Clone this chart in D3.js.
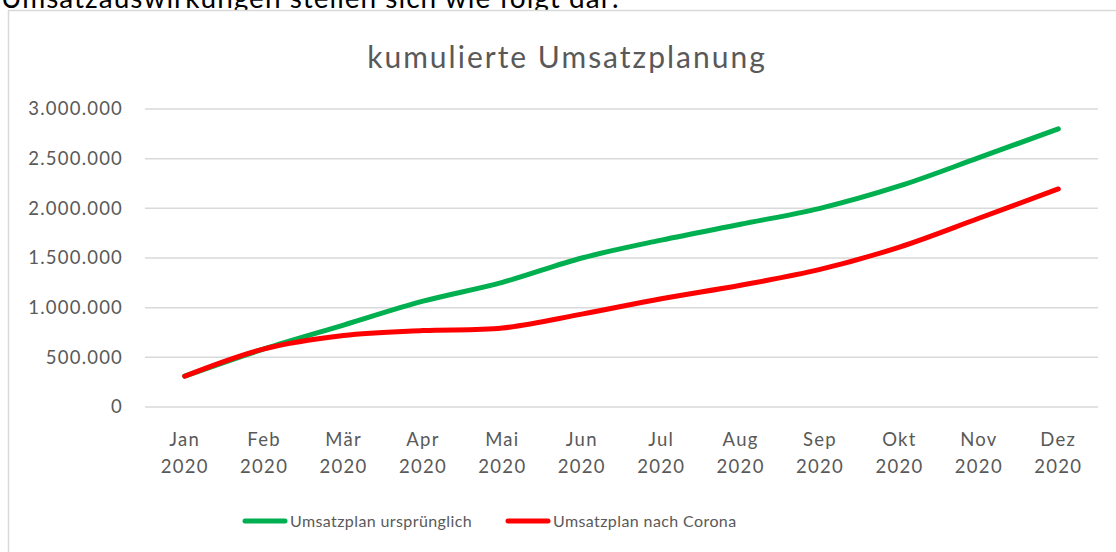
<!DOCTYPE html>
<html>
<head>
<meta charset="utf-8">
<script src="https://cdn.jsdelivr.net/npm/d3@7"></script>
<style>
  body { margin: 0; background: #fff; }
  text { font-family: Lato, "Open Sans", sans-serif; }
</style>
</head>
<body>
<div id="chart"></div>
<script>
var width = 1116;
var height = 552;

// data
var months = ["Jan", "Feb", "Mär", "Apr", "Mai", "Jun", "Jul", "Aug", "Sep", "Okt", "Nov", "Dez"];
var year = "2020";
var planOriginal = [310000, 585000, 825000, 1065000, 1255000, 1500000, 1680000, 1840000, 2000000, 2225000, 2510000, 2800000];
var planCorona = [310000, 585000, 720000, 770000, 795000, 935000, 1090000, 1225000, 1385000, 1610000, 1900000, 2195000];
var yTicks = [0, 500000, 1000000, 1500000, 2000000, 2500000, 3000000];
var seriesNames = ["Umsatzplan ursprünglich", "Umsatzplan nach Corona"];
var seriesColors = ["#00b050", "#ff0000"];

var svg = d3.select("#chart")
  .append("svg")
  .attr("width", width)
  .attr("height", height);

// intro sentence above the chart, cut off at the top like in the document
svg.append("text")
  .attr("x", 1)
  .attr("y", 8)
  .attr("font-size", 28)
  .attr("letter-spacing", 1)
  .attr("fill", "#000")
  .text("Umsatzauswirkungen stellen sich wie folgt dar:");

// chart frame
svg.append("rect")
  .attr("x", 8.5)
  .attr("y", 10.5)
  .attr("width", 1130)
  .attr("height", 560)
  .attr("fill", "#fff")
  .attr("stroke", "#d9d9d9")
  .attr("stroke-width", 1.5);

svg.append("text")
  .attr("x", 567)
  .attr("y", 68)
  .attr("text-anchor", "middle")
  .attr("font-size", 30)
  .attr("letter-spacing", 2)
  .attr("fill", "#595959")
  .text("kumulierte Umsatzplanung");

var x = d3.scaleBand().domain(months).range([145, 1098]);
var y = d3.scaleLinear().domain([0, 3000000]).range([407, 109]);

var fmt = d3.formatLocale({ decimal: ",", thousands: ".", grouping: [3], currency: ["", "€"] }).format(",.0f");

// gridlines
svg.append("g")
  .selectAll("line")
  .data(yTicks)
  .enter()
  .append("line")
  .attr("x1", 145)
  .attr("x2", 1098)
  .attr("y1", function(d){ return y(d); })
  .attr("y2", function(d){ return y(d); })
  .attr("stroke", "#d9d9d9")
  .attr("stroke-width", 1.5);

// y axis labels
var yAxis = svg.append("g")
  .attr("transform", "translate(132,0)")
  .call(d3.axisLeft(y).tickValues(yTicks).tickFormat(fmt).tickSize(0).tickPadding(9));
yAxis.select(".domain").remove();
yAxis.selectAll("text")
  .attr("font-size", 18.5)
  .attr("letter-spacing", 1.2)
  .attr("fill", "#595959")
  .style("font-family", "Lato, 'Open Sans', sans-serif");

// x axis labels, two lines
var xAxis = svg.append("g")
  .attr("transform", "translate(0,407)")
  .call(d3.axisBottom(x).tickSize(0).tickPadding(0).tickFormat(""));
xAxis.select(".domain").remove();
xAxis.selectAll(".tick").each(function(d){
  var t = d3.select(this).append("text")
    .attr("text-anchor", "middle")
    .attr("font-size", 18.5)
    .attr("letter-spacing", 1.3)
    .attr("fill", "#595959");
  t.append("tspan").attr("x", 0).attr("y", 39).text(d);
  t.append("tspan").attr("x", 0).attr("y", 66).text(year);
});

// lines
var line = d3.line()
  .x(function(d, i){ return x(months[i]) + x.bandwidth() / 2; })
  .y(function(d){ return y(d); })
  .curve(d3.curveCatmullRom.alpha(0.5));

[planOriginal, planCorona].forEach(function(s, i){
  svg.append("path")
    .datum(s)
    .attr("d", line)
    .attr("fill", "none")
    .attr("stroke", seriesColors[i])
    .attr("stroke-width", 5)
    .attr("stroke-linecap", "round")
    .attr("stroke-linejoin", "round");
});

// legend
var legendX = [245, 508];
var legend = svg.append("g");
seriesNames.forEach(function(name, i){
  legend.append("line")
    .attr("x1", legendX[i])
    .attr("x2", legendX[i] + 40)
    .attr("y1", 521)
    .attr("y2", 521)
    .attr("stroke", seriesColors[i])
    .attr("stroke-width", 5)
    .attr("stroke-linecap", "round");
  legend.append("text")
    .attr("x", legendX[i] + 45)
    .attr("y", 527)
    .attr("font-size", 16)
    .attr("letter-spacing", 0.4)
    .attr("fill", "#595959")
    .text(name);
});
</script>
</body>
</html>
